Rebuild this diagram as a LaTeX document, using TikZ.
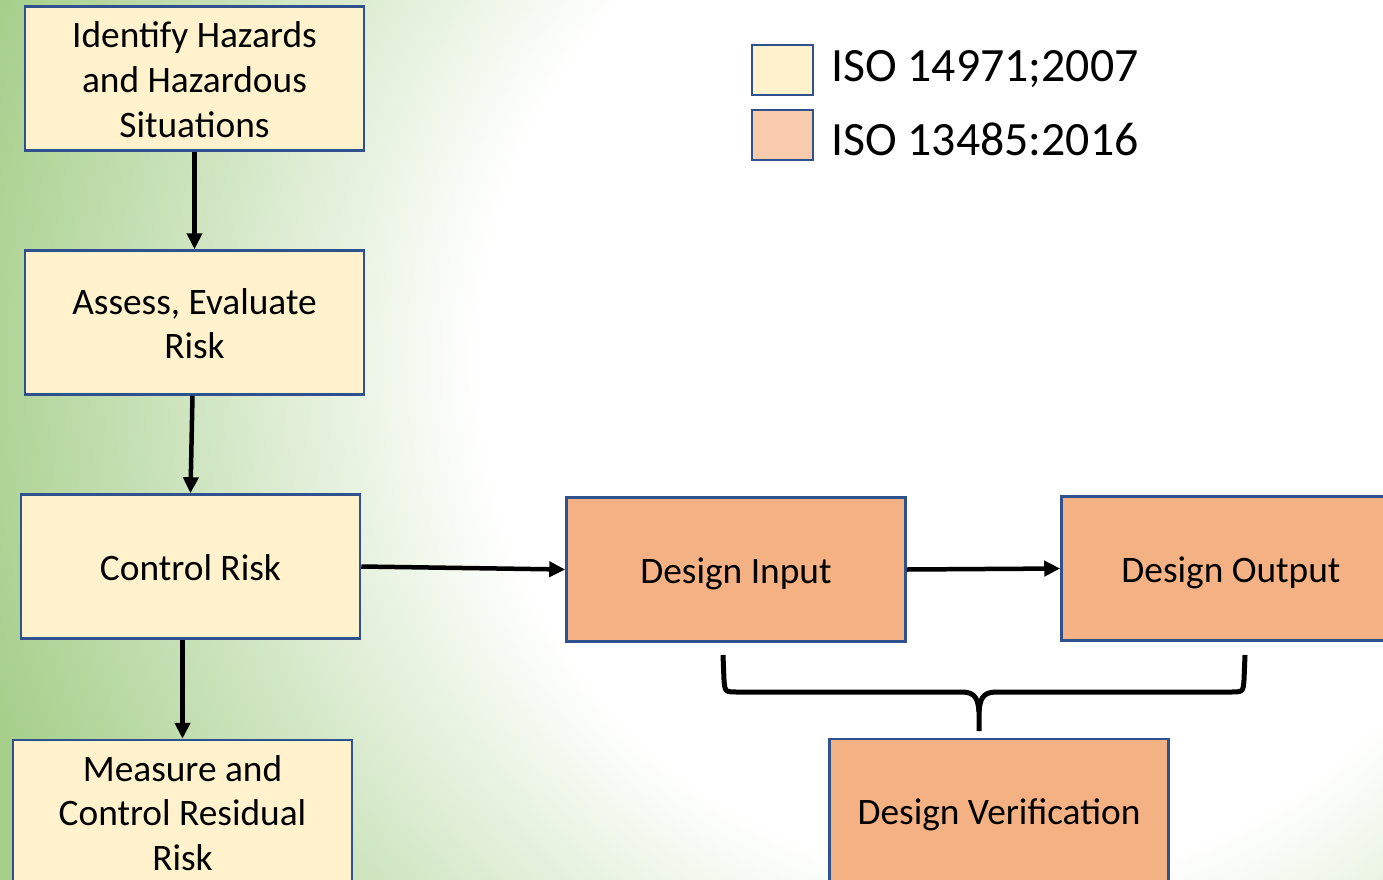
\documentclass[tikz,border=0pt]{standalone}
\usepackage{fontspec}
\setmainfont{Carlito}
\usetikzlibrary{arrows.meta}

\definecolor{bggreen}{RGB}{166,207,139}
\definecolor{riskfill}{HTML}{FFF2CC}
\definecolor{designfill}{HTML}{F4B183}
\definecolor{designkey}{HTML}{F8CBAD}
\definecolor{boxline}{HTML}{2F528F}

% soft white glow fading into green towards the edges
\pgfdeclareradialshading{bgglow}{\pgfpointorigin}{%
  color(0bp)=(white); color(520bp)=(white);
  color(1060bp)=(bggreen); color(1400bp)=(bggreen)}

% centred lines of box text, set slightly low as in a slide text frame
\newcommand\boxlines[1]{\raisebox{-5bp}[\height][\depth]{\begin{tabular}{@{}c@{}}#1\end{tabular}}}

\tikzset{
  riskbox/.style={draw=boxline, line width=2.5bp, fill=riskfill,
    minimum width=339bp, minimum height=144bp, inner sep=0pt,
    font=\fontsize{37.5}{45}\selectfont},
  designbox/.style={riskbox, fill=designfill},
  keybox/.style={draw=boxline, line width=2.5bp,
    minimum width=61bp, minimum height=50bp, inner sep=0pt},
  keytext/.style={anchor=base west, inner sep=0pt,
    font=\fontsize{48}{56}\selectfont},
  flow/.style={line width=4.5bp, -{Triangle[length=16bp,width=15bp]}},
  bracket/.style={line width=5bp, line join=round}
}

\begin{document}
\begin{tikzpicture}[x=1bp, y=-1bp]
\useasboundingbox (0,0) rectangle (1383,879);
\clip (0,0) rectangle (1383,879);

% background
\node[inner sep=0pt, outer sep=0pt] (glow) at (1000,360) {\pgfuseshading{bgglow}};

% risk management chain
\node[riskbox] (n1) at (194.5,78.5) {\boxlines{Identify Hazards\\and Hazardous\\Situations}};
\node[riskbox] (n2) at (194.5,322.5) {\boxlines{Assess, Evaluate\\Risk}};
\node[riskbox] (n3) at (190.5,566.5) {\boxlines{Control Risk}};
\node[riskbox] (n4) at (182.5,812) {\boxlines{Measure and\\Control Residual\\Risk}};

% design controls
\node[designbox] (di) at (736,569.5) {\boxlines{Design Input}};
\node[designbox] (do) at (1231,568.5) {\boxlines{Design Output}};
\node[designbox] (dv) at (999,811) {\boxlines{Design Verification}};

% connectors
\draw[flow] (n1.south) -- (n2.north);
\draw[flow] ([xshift=2bp]n2.south -| n3.north) -- (n3.north);
\draw[flow] (n3.south -| n4.north) -- (n4.north);
\draw[flow] (n3.east) -- (di.west);
\draw[flow] (di.east) -- (do.west);

% brace grouping input and output over verification
\coordinate (bl) at (723,655);
\coordinate (br) at (1245,655);
\coordinate (bt) at (979,731);
\draw[bracket] (bl) -- (724,680) .. controls (725,692) .. (738,692)
  -- (962,692) .. controls (976,692) and (978,700) .. (979,712) -- (bt);
\draw[bracket] (br) -- (1244,680) .. controls (1243,692) .. (1230,692)
  -- (996,692) .. controls (982,692) and (980,700) .. (979,712);

% legend
\node[keybox, fill=riskfill] (k1) at (782.5,70) {};
\node[keybox, fill=designkey] (k2) at (782.5,135) {};
\node[keytext] (t1) at (831,81.5) {ISO 14971;2007};
\node[keytext] (t2) at (831,155) {ISO 13485:2016};
\end{tikzpicture}
\end{document}
